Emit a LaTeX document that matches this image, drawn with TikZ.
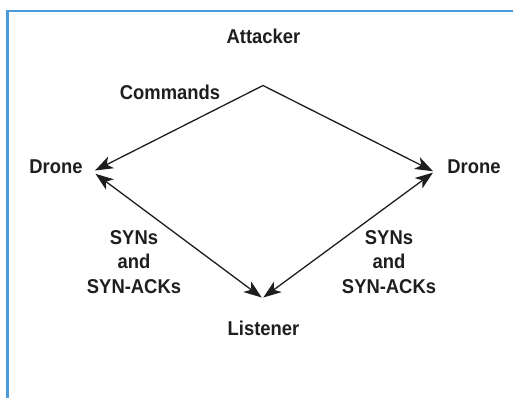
\documentclass[tikz,border=0pt]{standalone}
\usepackage{fontspec}
\setmainfont{Liberation Sans}[FakeStretch=0.92]
\usetikzlibrary{arrows.meta}
\definecolor{frameblue}{RGB}{74,155,219}
\definecolor{ink}{RGB}{30,30,30}
\begin{document}
\begin{tikzpicture}[x=1bp,y=-1bp,
  lbl/.style={font=\bfseries\fontsize{20bp}{24.5bp}\selectfont, text=ink, inner sep=0pt, anchor=base, align=center},
  conn/.style={line width=1.3bp, draw=ink, line join=miter,
    {Stealth[length=18bp,width=13bp,inset=5bp]}-{Stealth[length=18bp,width=13bp,inset=5bp]}},
  frameline/.style={draw=frameblue, line width=2.5bp}]
\useasboundingbox (0,0) rectangle (515,406);
\draw[frameline] (513,10.8) -- (7.6,10.8) -- (7.6,398);

\node[lbl] (attacker) at (263.5,43.3) {Attacker};
\node[lbl] (commands) at (170,99.5) {Commands};
\node[lbl] (droneL) at (56,173.3) {Drone};
\node[lbl] (droneR) at (474,173.3) {Drone};
\node[lbl] (synL) at (134,293) {SYNs\\and\\SYN-ACKs};
\node[lbl] (synR) at (389,293) {SYNs\\and\\SYN-ACKs};
\node[lbl] (listener) at (263.5,335) {Listener};

\coordinate (apex) at (263,85.5);
\coordinate (tipL) at (95,170.5);
\coordinate (tipR) at (433,171.2);
\coordinate (endL) at (95.5,173.8);
\coordinate (endR) at (433,172.6);
\coordinate (lisL) at (261.7,297.5);
\coordinate (lisR) at (263.3,297.5);

\draw[conn] (tipL) -- (apex) -- (tipR);
\draw[conn] (lisL) -- (endL);
\draw[conn] (lisR) -- (endR);
\end{tikzpicture}
\end{document}
